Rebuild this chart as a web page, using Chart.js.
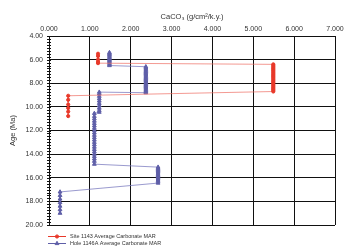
<!DOCTYPE html>
<html>
<head>
<meta charset="utf-8">
<script src="https://cdn.jsdelivr.net/npm/chart.js@4/dist/chart.umd.min.js"></script>
<style>
  html, body { margin: 0; padding: 0; background: #fff; }
  #wrap { position: relative; width: 351px; height: 248px; }
</style>
</head>
<body>
<div id="wrap"><canvas id="marChart" width="351" height="248"></canvas></div>
<script>
// Site 1143 average carbonate MAR (g/cm2/k.y.) and age (Ma)
const site1143Mar = [
	1.20, 1.20, 1.20, 1.20, 1.20,
	5.49, 5.49, 5.49, 5.49, 5.49, 5.49, 5.49, 5.49, 5.49, 5.49, 5.49, 5.49,
	5.49, 5.49, 5.49, 5.49, 5.49, 5.49, 5.49, 5.49, 5.49, 5.49, 5.49, 5.49,
	0.47, 0.47, 0.47, 0.47, 0.47, 0.47,
];
const site1143Age = [
	5.50, 5.70, 6.00, 6.20, 6.30,
	6.40, 6.50, 6.60, 6.70, 6.80, 6.90, 7.00, 7.10, 7.20, 7.30, 7.40, 7.50,
	7.60, 7.70, 7.80, 7.90, 8.00, 8.10, 8.20, 8.30, 8.40, 8.50, 8.60, 8.70,
	9.06, 9.40, 9.80, 10.10, 10.40, 10.78,
];

// Hole 1146A average carbonate MAR (g/cm2/k.y.) and age (Ma)
const hole1146Mar = [
	1.48, 1.48, 1.48, 1.48, 1.48, 1.48, 1.48, 1.48, 1.48, 1.48, 1.48, 1.48,
	2.37, 2.37, 2.37, 2.37, 2.37, 2.37, 2.37, 2.37, 2.37, 2.37, 2.37, 2.37,
	2.37, 2.37, 2.37, 2.37, 2.37, 2.37, 2.37, 2.37, 2.37, 2.37, 2.37,
	1.23, 1.23, 1.23, 1.23, 1.23, 1.23, 1.23, 1.23, 1.23, 1.23,
	1.11, 1.11, 1.11, 1.11, 1.11, 1.11, 1.11, 1.11, 1.11, 1.11, 1.11,
	1.11, 1.11, 1.11, 1.11, 1.11, 1.11, 1.11, 1.11, 1.11, 1.11, 1.11,
	2.67, 2.67, 2.67, 2.67, 2.67, 2.67, 2.67, 2.67, 2.67, 2.67, 2.67, 2.67, 2.67, 2.67,
	0.27, 0.27, 0.27, 0.27, 0.27, 0.27, 0.27,
];
const hole1146Age = [
	5.40, 5.50, 5.60, 5.70, 5.80, 5.90, 6.00, 6.10, 6.20, 6.30, 6.40, 6.50,
	6.60, 6.70, 6.80, 6.90, 7.00, 7.10, 7.20, 7.30, 7.40, 7.50, 7.60, 7.70,
	7.80, 7.90, 8.00, 8.10, 8.20, 8.30, 8.40, 8.50, 8.60, 8.70, 8.80,
	8.75, 8.90, 9.10, 9.30, 9.50, 9.70, 9.90, 10.10, 10.30, 10.45,
	10.55, 10.80, 11.00, 11.20, 11.40, 11.60, 11.80, 12.00, 12.20, 12.40, 12.60,
	12.80, 13.00, 13.20, 13.40, 13.60, 13.80, 14.00, 14.20, 14.40, 14.60, 14.85,
	15.10, 15.20, 15.30, 15.40, 15.50, 15.60, 15.70, 15.80, 15.90, 16.00, 16.10, 16.20, 16.30, 16.45,
	17.20, 17.50, 17.80, 18.10, 18.40, 18.70, 19.00,
];

const seriesNames = ["Site 1143 Average Carbonate MAR", "Hole 1146A Average Carbonate MAR"];
const xTitle = "CaCO\u2083 (g/cm\u00b2/k.y.)";
const yTitle = "Age (Ma)";

const toPoints = (xs, ys) => xs.map((x, i) => ({ x: x, y: ys[i] }));

const FONT = "'Liberation Sans', Arial, sans-serif";

// Minor ticks on the age axis and the legend under the plot
const extrasPlugin = {
	id: "extras",
	afterDraw(chart) {
		const ctx = chart.ctx;
		const y = chart.scales.y;
		const left = chart.chartArea.left;
		ctx.save();
		ctx.strokeStyle = "#111";
		ctx.lineWidth = 1;
		ctx.beginPath();
		for (let v = y.min; v <= y.max + 0.001; v += 0.25) {
			const py = Math.round(y.getPixelForValue(v)) + 0.5;
			ctx.moveTo(left - 2, py);
			ctx.lineTo(left + 2, py);
		}
		ctx.stroke();

		// legend
		ctx.font = "5.5px " + FONT;
		ctx.textBaseline = "middle";
		chart.data.datasets.forEach((ds, i) => {
			const ly = 236.5 + i * 7;
			ctx.strokeStyle = ds.pointBackgroundColor;
			ctx.fillStyle = ds.pointBackgroundColor;
			ctx.beginPath();
			ctx.moveTo(48, ly);
			ctx.lineTo(66, ly);
			ctx.stroke();
			Chart.helpers.drawPoint(ctx, {
				pointStyle: ds.pointStyle,
				radius: ds.pointRadius,
				rotation: 0,
				borderWidth: 1,
			}, 57, ly);
			ctx.fillStyle = "#333";
			ctx.fillText(seriesNames[i], 70, ly);
		});
		ctx.restore();
	},
};

document.addEventListener("DOMContentLoaded", function () {
	const ctx = document.getElementById("marChart").getContext("2d");

	new Chart(ctx, {
		type: "line",
		data: {
			datasets: [
				{
					label: seriesNames[0],
					data: toPoints(site1143Mar, site1143Age),
					borderColor: "rgba(238,110,100,0.7)",
					backgroundColor: "#e8392a",
					pointBackgroundColor: "#e8392a",
					pointBorderColor: "#e8392a",
					pointStyle: "circle",
					pointRadius: 1.6,
					borderWidth: 1,
					tension: 0,
				},
				{
					label: seriesNames[1],
					data: toPoints(hole1146Mar, hole1146Age),
					borderColor: "rgba(120,120,190,0.75)",
					backgroundColor: "#5f5fa8",
					pointBackgroundColor: "#5f5fa8",
					pointBorderColor: "#5f5fa8",
					pointStyle: "triangle",
					pointRadius: 2.2,
					borderWidth: 1,
					tension: 0,
				},
			],
		},
		options: {
			responsive: false,
			animation: false,
			parsing: false,
			layout: { padding: { top: 0, right: 16, bottom: 23, left: 0 } },
			plugins: {
				legend: { display: false },
				tooltip: { enabled: false },
			},
			scales: {
				x: {
					type: "linear",
					position: "top",
					min: 0,
					max: 7,
					ticks: {
						stepSize: 1,
						padding: 3,
						color: "#333",
						font: { family: FONT, size: 7 },
						callback: (v) => v.toFixed(3),
					},
					grid: { color: "#111", lineWidth: 1, drawTicks: false },
					border: { color: "#111" },
					title: {
						display: true,
						text: xTitle,
						color: "#333",
						font: { family: FONT, size: 7.5 },
						padding: { top: 12, bottom: 4 },
					},
					afterFit: (s) => { s.height = 36; },
				},
				y: {
					type: "linear",
					reverse: true,
					min: 4,
					max: 20,
					ticks: {
						stepSize: 2,
						padding: 6,
						color: "#333",
						font: { family: FONT, size: 7 },
						callback: (v) => v.toFixed(2),
					},
					grid: { color: "#111", lineWidth: 1, drawTicks: false },
					border: { color: "#111" },
					title: {
						display: true,
						text: yTitle,
						color: "#333",
						font: { family: FONT, size: 7.5 },
						padding: { top: 8, bottom: 4 },
					},
					afterFit: (s) => { s.width = 49; },
				},
			},
		},
		plugins: [extrasPlugin],
	});
});
</script>
</body>
</html>
